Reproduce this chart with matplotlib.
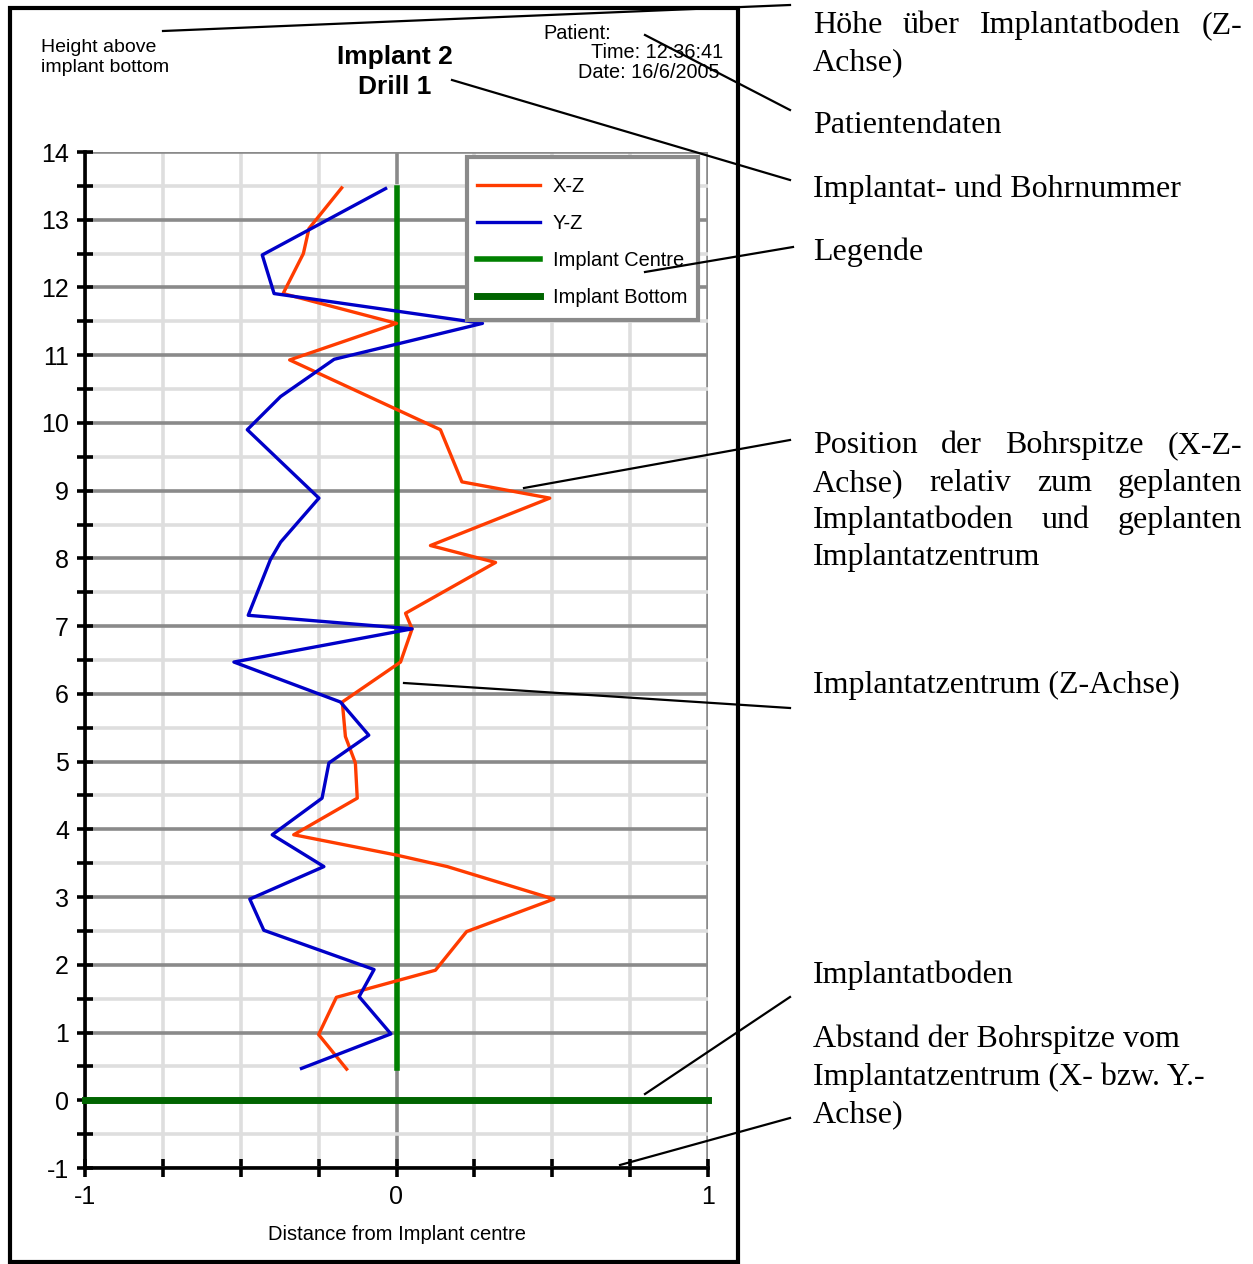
import matplotlib
matplotlib.use("Agg")
import matplotlib.pyplot as plt
import matplotlib.transforms as mtransforms
from matplotlib.lines import Line2D
import numpy as np

plt.rcParams["axes.unicode_minus"] = False

W, H = 1253, 1264

# drill tip trace, height above implant bottom (z) vs. offset from centre
z_xz = [13.47, 12.87, 12.50, 11.91, 11.47, 10.93, 9.90, 9.13, 8.89, 8.19, 7.94,
        7.19, 6.96, 6.47, 5.88, 5.37, 4.98, 4.46, 3.92, 3.62, 3.45, 2.97, 2.49,
        1.92, 1.52, 0.97, 0.46]
x_xz = [-0.176, -0.281, -0.299, -0.364, 0.000, -0.343, 0.141, 0.210, 0.492, 0.109, 0.318,
        0.029, 0.050, 0.013, -0.174, -0.164, -0.132, -0.126, -0.330, 0.000, 0.163, 0.505, 0.225,
        0.125, -0.193, -0.250, -0.160]

z_yz = [13.46, 12.48, 11.91, 11.47, 10.94, 10.39, 9.90, 8.89, 8.24, 7.98, 7.16,
        6.96, 6.47, 5.88, 5.39, 4.98, 4.46, 3.92, 3.45, 2.97, 2.51, 1.93, 1.53,
        0.98, 0.47]
y_yz = [-0.035, -0.431, -0.393, 0.276, -0.200, -0.372, -0.479, -0.249, -0.372, -0.405, -0.476,
        0.050, -0.522, -0.180, -0.089, -0.217, -0.239, -0.399, -0.233, -0.471, -0.426, -0.072, -0.120,
        -0.018, -0.305]

centre_x = [0, 0]
centre_z = [0.47, 13.47]
bottom_x = [-1, 1]
bottom_z = [0, 0]

legend_labels = ["X-Z", "Y-Z", "Implant Centre", "Implant Bottom"]

side_notes = [
    ("Höhe über Implantatboden (Z-", 33, True),
    ("Achse)", 70, False),
    ("Patientendaten", 133, False),
    ("Implantat- und Bohrnummer", 197, False),
    ("Legende", 260, False),
    ("Position der Bohrspitze (X-Z-", 453, True),
    ("Achse) relativ zum geplanten", 491, True),
    ("Implantatboden und geplanten", 528, True),
    ("Implantatzentrum", 565, False),
    ("Implantatzentrum (Z-Achse)", 693, False),
    ("Implantatboden", 983, False),
    ("Abstand der Bohrspitze vom", 1047, False),
    ("Implantatzentrum (X- bzw. Y.-", 1085, False),
    ("Achse)", 1122, False),
]

fig = plt.figure(figsize=(W / 100, H / 100), dpi=100)
# pixel coordinates measured from the top-left corner
pix = mtransforms.Affine2D().scale(1.0 / W, -1.0 / H).translate(0, 1) + fig.transFigure

ax = fig.add_axes([85 / W, 1 - 1168 / H, (708 - 85) / W, (1168 - 152) / H])
ax.set_xlim(-1, 1)
ax.set_ylim(-1, 14)

ax.set_xticks([-1, 0, 1])
ax.set_xticks(np.arange(-1, 1.01, 0.25), minor=True)
ax.set_yticks(np.arange(-1, 15, 1))
ax.set_yticks(np.arange(-0.5, 14, 1), minor=True)
ax.grid(which="major", color="#8a8a8a", lw=2.6)
ax.grid(which="minor", color="#dedede", lw=2.6)
ax.set_axisbelow(True)

for s in ["top", "right"]:
    ax.spines[s].set_visible(False)
for s in ["left", "bottom"]:
    ax.spines[s].set_linewidth(2.6)
    ax.spines[s].set_color("black")
ax.tick_params(which="both", direction="inout", length=13, width=2.6, color="black")
ax.tick_params(axis="y", which="both", length=11)
ax.tick_params(axis="y", labelsize=18, pad=6)
ax.tick_params(axis="x", labelsize=18, pad=6)
for t in ax.get_xticklabels() + ax.get_yticklabels():
    t.set_family("Liberation Sans")
ax.set_xlabel("Distance from Implant centre", fontsize=14.5, family="Liberation Sans",
              labelpad=11)

ax.plot(x_xz, z_xz, color="#ff3c00", lw=2.4, label=legend_labels[0], zorder=4)
ax.plot(y_yz, z_yz, color="#0000c8", lw=2.4, label=legend_labels[1], zorder=4)
ax.plot(centre_x, centre_z, color="#008000", lw=4, label=legend_labels[2], zorder=3)
ax.plot(bottom_x, bottom_z, color="#006400", lw=5, label=legend_labels[3], zorder=3,
        clip_on=False)

# legend box drawn separately so the padding can differ per side
ax.add_patch(plt.Rectangle((467, 157), 231, 163, transform=pix, facecolor="white",
                           edgecolor="#8a8a8a", lw=3, zorder=4.5, clip_on=False))
leg = ax.legend(loc="upper left", bbox_to_anchor=((477 - 85) / 623, (1168 - 177) / 1016),
                frameon=False, prop={"family": "Liberation Sans", "size": 14.4},
                handlelength=3.15, handletextpad=0.65, labelspacing=0.9, borderpad=0,
                borderaxespad=0)
leg.set_zorder(5)

# header texts of the panel
hdr = dict(transform=pix, family="Liberation Sans", va="baseline")
fig.text(41, 52, "Height above", fontsize=14, **hdr)
fig.text(41, 72, "implant bottom", fontsize=14, **hdr)
fig.text(395, 64, "Implant 2", fontsize=19, weight="bold", ha="center", **hdr)
fig.text(395, 94, "Drill 1", fontsize=19, weight="bold", ha="center", **hdr)
fig.text(543, 39, "Patient:", fontsize=14.3, **hdr)
fig.text(723, 58, "Time: 12:36:41", fontsize=14.3, ha="right", **hdr)
fig.text(720, 78, "Date: 16/6/2005", fontsize=14.3, ha="right", **hdr)

# panel frame
fig.add_artist(plt.Rectangle((10, 8), 728, 1254, transform=pix, fill=False,
                             lw=3, edgecolor="black"))

# side notes in serif, some lines justified
renderer = fig.canvas.get_renderer()
x_left, x_right = 813, 1242
for line, y, justify in side_notes:
    if not justify:
        fig.text(x_left, y, line, transform=pix, fontsize=23, family="Liberation Serif",
                 va="baseline")
        continue
    words = line.split()
    texts = [fig.text(0, y, w, transform=pix, fontsize=23, family="Liberation Serif",
                      va="baseline") for w in words]
    widths = [t.get_window_extent(renderer).width for t in texts]
    gap = (x_right - x_left - sum(widths)) / (len(words) - 1)
    x = x_left
    for t, w in zip(texts, widths):
        t.set_x(x)
        x += w + gap

# leader lines from the notes to the chart
leaders = [
    ((163, 31), (790, 5)),
    ((645, 35), (790, 110)),
    ((452, 80), (790, 180)),
    ((645, 272), (793, 247)),
    ((524, 488), (790, 440)),
    ((404, 683), (790, 708)),
    ((645, 1094), (790, 997)),
    ((620, 1165), (790, 1118)),
]
for (x0, y0), (x1, y1) in leaders:
    fig.add_artist(Line2D([x0, x1], [y0, y1], transform=pix, color="black", lw=1.6, zorder=10))

plt.savefig("out.png", dpi=100)
